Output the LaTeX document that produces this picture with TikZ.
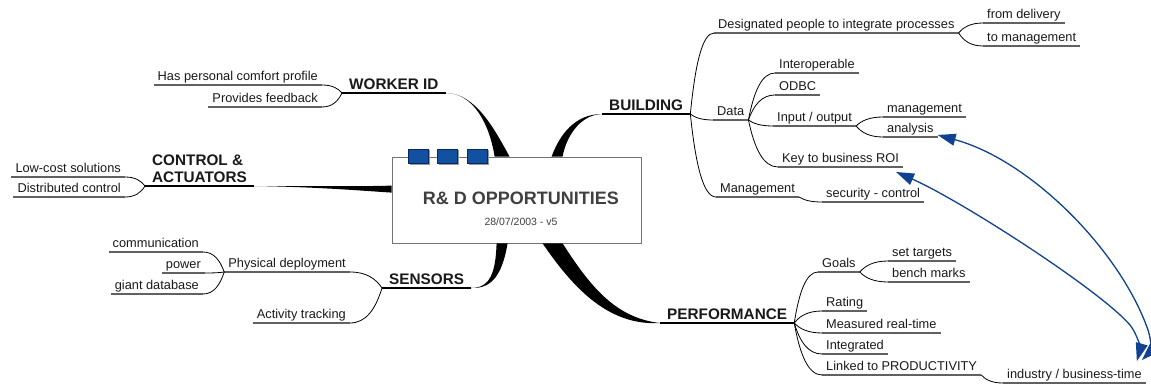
\documentclass[tikz,border=0pt]{standalone}
\usepackage{fontspec}
\setmainfont{Liberation Sans}
\usetikzlibrary{calc,arrows.meta,shadows}
\definecolor{arrblue}{RGB}{16,66,145}
\definecolor{sqblue}{RGB}{18,80,160}
\definecolor{sqedge}{RGB}{10,40,95}
\newcommand{\mmconn}[2]{\draw[conn] let \p1=(#1), \p2=(#2) in (\p1) .. controls ({\x1+0.2*(\x2-\x1)},{\y1+0.6*(\y2-\y1)}) and ({0.5*\x1+0.5*\x2},{\y2}) .. (\p2);}
\begin{document}
\begin{tikzpicture}[x=1pt,y=-1pt,
 leaf/.style={font=\fontsize{12.8}{15}\selectfont, text=black!90, inner xsep=4pt, inner ysep=1pt, text height=9.5pt, text depth=3pt},
 mainn/.style={font=\fontsize{15.3}{17}\selectfont\bfseries, text=black!90, inner xsep=7pt, inner ysep=1pt},
 mainh/.style={text height=11pt, text depth=2.5pt},
 uline/.style={draw=black!62, line width=1.1pt},
 mline/.style={draw=black, line width=1.4pt},
 conn/.style={draw=black, line width=0.8pt},
 branch/.style={fill=black},
 arr/.style={draw=arrblue, line width=1.3pt, {Triangle[length=18pt,width=12pt]}-{Triangle[length=18pt,width=12pt]}},
 sq/.style={draw=sqedge, fill=sqblue, line width=0.6pt, minimum width=20pt, minimum height=14pt, inner sep=0pt,
   drop shadow={shadow xshift=1.5pt, shadow yshift=-1.5pt, fill=black!40, opacity=1}},
]
\useasboundingbox (0,0) rectangle (1151,385);

% central box
\node[draw=black!55, fill=white, line width=0.8pt, minimum width=249pt, minimum height=86pt, inner sep=0pt] (box) at (516.5,200) {};
\node[font=\fontsize{18}{20}\selectfont\bfseries, text=black!75] (title) at (521,198) {R\& D OPPORTUNITIES};
\node[font=\fontsize{10.5}{12}\selectfont, text=black!75] (date) at (521,222) {28/07/2003 - v5};
\node[sq] (sq1) at (418,156) {};
\node[sq] (sq2) at (447.5,156) {};
\node[sq] (sq3) at (477,156) {};

% main topics
\node[mainn, mainh, anchor=south west] (worker) at (342,93) {WORKER ID};
\node[mainn, anchor=south west, align=left, text depth=2.5pt] (control) at (145,186) {CONTROL \&\\ACTUATORS};
\node[mainn, mainh, anchor=south west] (building) at (602,114) {BUILDING};
\node[mainn, mainh, anchor=south west] (sensors) at (382,288) {SENSORS};
\node[mainn, mainh, anchor=south west] (performance) at (660,323) {PERFORMANCE};

% leaves
\node[leaf, anchor=south east] (wk1) at (322,85) {Has personal comfort profile};
\node[leaf, anchor=south east] (wk2) at (322,107) {Provides feedback};
\node[leaf, anchor=south east] (c1) at (125,177) {Low-cost solutions};
\node[leaf, anchor=south east] (c2) at (125,197) {Distributed control};
\node[leaf, anchor=south west] (b1) at (714,33) {Designated people to integrate processes};
\node[leaf, anchor=south west] (b11) at (983,23) {from delivery};
\node[leaf, anchor=south west] (b12) at (983,46) {to management};
\node[leaf, anchor=south west] (b2) at (713,120) {Data};
\node[leaf, anchor=south west] (d1) at (775,73) {Interoperable};
\node[leaf, anchor=south west] (d2) at (775,95) {ODBC};
\node[leaf, anchor=south west] (d3) at (773,126) {Input / output};
\node[leaf, anchor=south west] (d31) at (883,117) {management};
\node[leaf, anchor=south west] (d32) at (883,137) {analysis};
\node[leaf, anchor=south west] (d4) at (778,167) {Key to business ROI};
\node[leaf, anchor=south west] (b3) at (716,197) {Management};
\node[leaf, anchor=south west] (b31) at (822,202) {security - control};
\node[leaf, anchor=south east] (s1) at (350,272) {Physical deployment};
\node[leaf, anchor=south east] (s11) at (203,252) {communication};
\node[leaf, anchor=south east] (s12) at (205,273) {power};
\node[leaf, anchor=south east] (s13) at (203,294) {giant database};
\node[leaf, anchor=south east] (s2) at (350,323) {Activity tracking};
\node[leaf, anchor=south west] (p1) at (818,272) {Goals};
\node[leaf, anchor=south west] (p11) at (888,261) {set targets};
\node[leaf, anchor=south west] (p12) at (888,282) {bench marks};
\node[leaf, anchor=south west] (p2) at (822,311) {Rating};
\node[leaf, anchor=south west] (p3) at (822,333) {Measured real-time};
\node[leaf, anchor=south west] (p4) at (822,354) {Integrated};
\node[leaf, anchor=south west] (p5) at (822,375) {Linked to PRODUCTIVITY};
\node[leaf, anchor=south west] (p51) at (1003,383) {industry / business-time};

% underlines
\foreach \n in {worker,control,building,sensors,performance}
  \draw[mline] (\n.south west) -- (\n.south east);
\foreach \n in {wk1,wk2,c1,c2,b1,b11,b12,b2,d1,d2,d3,d31,d32,d4,b3,b31,s1,s11,s12,s13,s2,p1,p11,p12,p2,p3,p4,p5,p51}
  \draw[uline] (\n.south west) -- (\n.south east);

% thick main branches
\fill[branch] (worker.south east) .. controls +(28,0) and ($(box.north west)+(98,-32)$) .. ($(box.north west)+(103,0)$)
  -- ($(box.north west)+(118,0)$) .. controls ($(box.north west)+(103,-27)$) and ($(worker.south east)+(30,0)$) .. (worker.south east);
\fill[branch] (building.south west) .. controls +(-27,0) and ($(box.north west)+(168,-22)$) .. ($(box.north west)+(160,0)$)
  -- ($(box.north west)+(171,0)$) .. controls ($(box.north west)+(174,-17)$) and ($(building.south west)+(-24,1)$) .. (building.south west);
\fill[branch] ($(box.south west)+(151,0)$) .. controls ($(box.south west)+(183,47)$) and ($(performance.south west)+(-50,3)$) .. (performance.south west)
  .. controls ($(performance.south west)+(-45,-5)$) and ($(box.south west)+(198,42)$) .. ($(box.south west)+(171,0)$) -- cycle;
\fill[branch] (sensors.south east) .. controls +(20,0) and ($(box.south west)+(104,27)$) .. ($(box.south west)+(105,0)$)
  -- ($(box.south west)+(116,0)$) .. controls ($(box.south west)+(111,29)$) and ($(sensors.south east)+(22,1)$) .. (sensors.south east);
\fill[branch] (control.south east) .. controls +(65,0) and ($(box.north west)+(-32,30)$) .. ($(box.north west)+(0,29)$)
  -- ($(box.north west)+(0,36)$) .. controls ($(box.north west)+(-32,34)$) and ($(control.south east)+(65,1)$) .. (control.south east);

% thin connectors
\mmconn{worker.south west}{wk1.south east}
\mmconn{worker.south west}{wk2.south east}
\mmconn{control.south west}{c1.south east}
\mmconn{control.south west}{c2.south east}
\mmconn{building.south east}{b1.south west}
\mmconn{building.south east}{b2.south west}
\mmconn{building.south east}{b3.south west}
\mmconn{b1.south east}{b11.south west}
\mmconn{b1.south east}{b12.south west}
\mmconn{b2.south east}{d1.south west}
\mmconn{b2.south east}{d2.south west}
\mmconn{b2.south east}{d3.south west}
\mmconn{b2.south east}{d4.south west}
\mmconn{d3.south east}{d31.south west}
\mmconn{d3.south east}{d32.south west}
\mmconn{b3.south east}{b31.south west}
\mmconn{sensors.south west}{s1.south east}
\mmconn{sensors.south west}{s2.south east}
\mmconn{s1.south west}{s11.south east}
\mmconn{s1.south west}{s12.south east}
\mmconn{s1.south west}{s13.south east}
\mmconn{performance.south east}{p1.south west}
\mmconn{performance.south east}{p2.south west}
\mmconn{performance.south east}{p3.south west}
\mmconn{performance.south east}{p4.south west}
\mmconn{performance.south east}{p5.south west}
\mmconn{p1.south east}{p11.south west}
\mmconn{p1.south east}{p12.south west}
\mmconn{p5.south east}{p51.south west}

% blue relation arrows
\coordinate (aA) at ($(d32.south east)+(0,-2)$);
\coordinate (aB) at ($(d4.south east)+(-7,5)$);
\coordinate (aC) at ($(p51.north east)+(-4,-8)$);
\coordinate (aD) at ($(p51.north east)+(-9,-7)$);
\draw[arr] (aA) .. controls (1030,160) and (1120,250) .. (1148,330) .. controls (1152,342) and (1150,352) .. (aC);
\draw[arr] (aB) .. controls (960,200) and (1100,290) .. (1130,325) .. controls (1138,335) and (1140,350) .. (aD);
\end{tikzpicture}
\end{document}
